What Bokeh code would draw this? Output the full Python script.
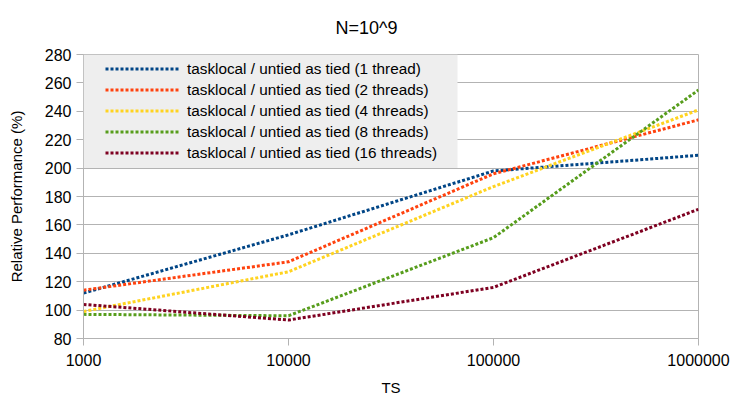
from bokeh.plotting import figure
from bokeh.models import (FixedTicker, NumeralTickFormatter, Legend, LegendItem,
                          BoxAnnotation, Range1d)
from bokeh.embed import file_html
from bokeh.resources import INLINE

# ---- data ----
ts = [1000, 10000, 100000, 1000000]
t1 = [112, 153, 198, 209]
t2 = [114, 134, 196, 234]
t4 = [99, 127, 187, 241]
t8 = [97, 96, 151, 255]
t16 = [104, 93, 116, 171]
series_names = [
    "tasklocal / untied as tied (1 thread)",
    "tasklocal / untied as tied (2 threads)",
    "tasklocal / untied as tied (4 threads)",
    "tasklocal / untied as tied (8 threads)",
    "tasklocal / untied as tied (16 threads)",
]
colors = ["#004586", "#ff420e", "#ffd320", "#579d1c", "#7e0021"]
y_ticks = [80, 100, 120, 140, 160, 180, 200, 220, 240, 260, 280]
title_text = "N=10^9"
x_title = "TS"
y_title = "Relative Performance (%)"

FONT = "Liberation Sans"
GRID = "#b3b3b3"

p = figure(width=732, height=400, output_backend="svg", toolbar_location=None,
           x_axis_type="log", x_range=Range1d(1000, 1000000), y_range=Range1d(80, 280),
           min_border_left=83, min_border_right=34, min_border_top=54, min_border_bottom=62)
p.title.text = title_text
p.title.align = "left"
p.title.vertical_align = "top"
p.title.offset = 252
p.title.standoff = 30
p.title.text_font = FONT
p.title.text_font_size = "18px"
p.title.text_font_style = "normal"
p.title.text_color = "black"
p.background_fill_color = "white"
p.border_fill_color = "white"
p.outline_line_color = GRID
p.outline_line_width = 1

# grids
p.xgrid.visible = False
p.ygrid.grid_line_color = GRID
p.ygrid.grid_line_width = 1

# axes
p.xaxis.ticker = FixedTicker(ticks=ts)
p.xaxis.formatter = NumeralTickFormatter(format="0")
p.yaxis.ticker = FixedTicker(ticks=y_ticks)
for ax in (p.xaxis[0], p.yaxis[0]):
    ax.axis_line_color = GRID
    ax.major_tick_line_color = GRID
    ax.major_tick_out = 7
    ax.major_tick_in = 0
    ax.minor_tick_out = 0
    ax.minor_tick_in = 0
    ax.major_label_text_font = FONT
    ax.major_label_text_font_size = "16px"
    ax.major_label_text_color = "black"
    ax.axis_label_text_font = FONT
    ax.axis_label_text_font_size = "15px"
    ax.axis_label_text_font_style = "normal"
    ax.axis_label_text_color = "black"
p.xaxis.axis_label = x_title
p.yaxis.axis_label = y_title
p.xaxis.major_label_standoff = 8
p.xaxis.axis_label_standoff = 10
p.yaxis.major_label_standoff = 5
p.yaxis.axis_label_standoff = 17

# legend background box
p.add_layout(BoxAnnotation(left=1000, right=10 ** (3 + 374 / 205), bottom=200, top=280,
                           fill_color="#eeeeee", fill_alpha=1.0, line_color=None))

items = []
for name, ys, c in zip(series_names, [t1, t2, t4, t8, t16], colors):
    r = p.line(ts, ys, line_color=c, line_width=3, line_dash="3 2")
    items.append(LegendItem(label=name, renderers=[r]))

legend = Legend(items=items, location=(22, 175), orientation="vertical",
                glyph_width=75, glyph_height=21, label_height=21, spacing=0,
                padding=0, margin=0, label_standoff=7,
                label_text_font=FONT, label_text_font_size="15.3px",
                label_text_color="black",
                background_fill_alpha=0, border_line_color=None)
p.add_layout(legend)

open("out.html", "w").write(file_html(p, INLINE))
